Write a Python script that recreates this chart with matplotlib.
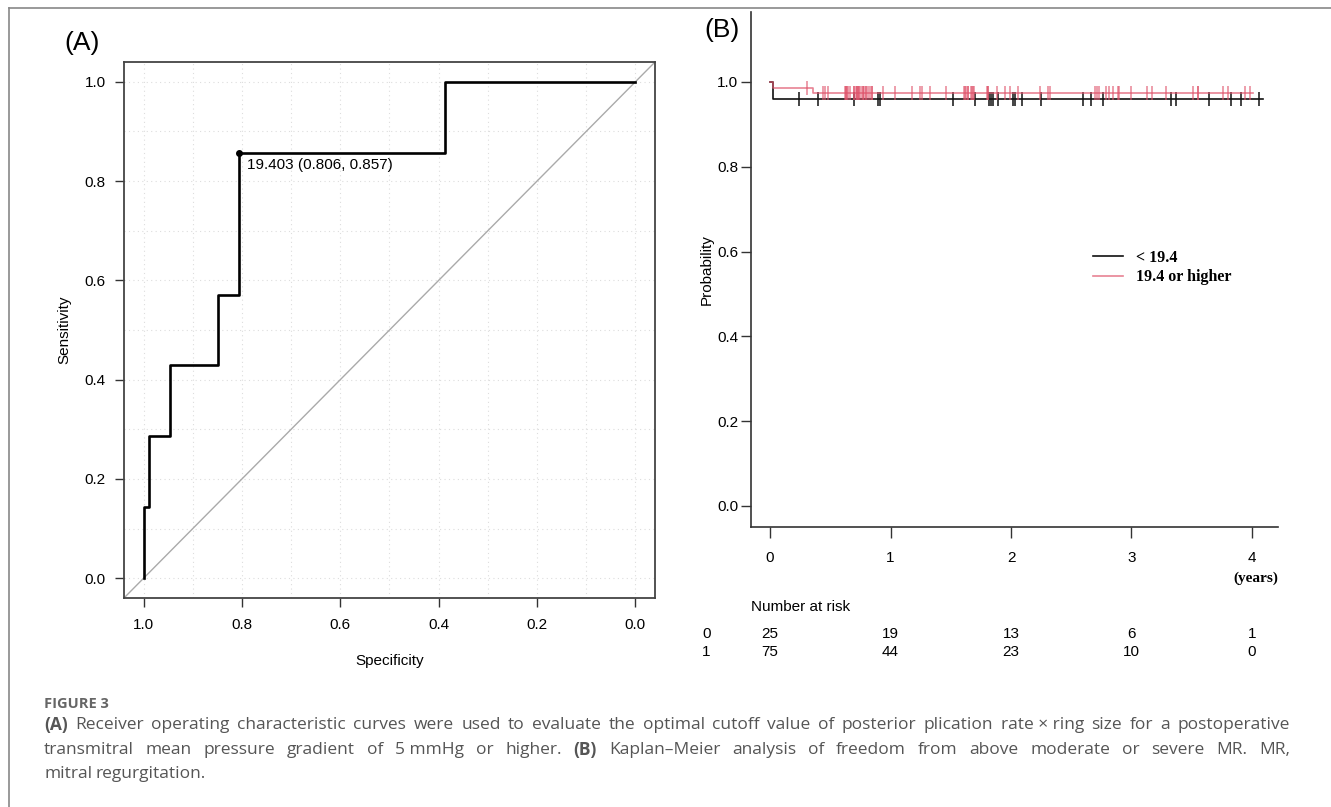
import numpy as np
import matplotlib
matplotlib.use("Agg")
import matplotlib.pyplot as plt
from matplotlib.lines import Line2D
from matplotlib.transforms import blended_transform_factory

# ---- ROC data (panel A) ----
roc_spec = [1.0, 1.0, 0.989, 0.989, 0.946, 0.946, 0.849, 0.849, 0.806, 0.806, 0.387, 0.387, 0.0]
roc_sens = [0.0, 0.143, 0.143, 0.286, 0.286, 0.429, 0.429, 0.571, 0.571, 0.857, 0.857, 1.0, 1.0]
best_spec, best_sens, best_thr = 0.806, 0.857, 19.403

# ---- KM data (panel B) ----
grp0_events = [0.025]
grp0_censor = [0.24, 0.40, 0.70, 0.895, 0.914, 1.52, 1.70, 1.82, 1.83, 1.85, 1.89,
               2.02, 2.03, 2.09, 2.25, 2.60, 2.66, 2.76, 3.33, 3.37, 3.64, 3.83, 3.91, 4.06]
grp1_events = [0.025, 0.36]
grp1_censor = [0.31, 0.437, 0.454, 0.48, 0.622, 0.63, 0.63, 0.64, 0.65, 0.66, 0.70, 0.70,
               0.71, 0.72, 0.72, 0.73, 0.74, 0.74, 0.755, 0.77, 0.77, 0.783, 0.797, 0.80,
               0.813, 0.83, 0.844, 0.844, 0.94,
               1.04, 1.18, 1.245, 1.26, 1.328, 1.458, 1.613, 1.62, 1.624, 1.64, 1.64, 1.673,
               1.67, 1.687, 1.69, 1.80, 1.81, 1.81, 1.88, 1.95, 1.99,
               2.06, 2.24, 2.31, 2.32, 2.70, 2.71, 2.73, 2.79, 2.81, 2.85, 2.885, 2.90, 2.995,
               3.13, 3.17, 3.29, 3.51, 3.55, 3.55, 3.76, 3.80, 3.94, 3.98]
group_labels = ["< 19.4", "19.4 or higher"]
risk_times = [0, 1, 2, 3, 4]
risk_grp0 = [25, 19, 13, 6, 1]
risk_grp1 = [75, 44, 23, 10, 0]

W, H = 1331, 807
fig = plt.figure(figsize=(W / 100, H / 100), dpi=100)
SANS = ["Liberation Sans", "DejaVu Sans"]
SERIF = ["Liberation Serif", "DejaVu Serif"]
plt.rcParams["font.family"] = SANS
PT = 72 / 100  # points per pixel


def fx(px):
    return px / W


def fy(py):
    return 1 - py / H


# outer frame lines
fig.add_artist(Line2D([fx(9), 1], [fy(8), fy(8)], color="#888888", lw=1.2))
fig.add_artist(Line2D([fx(9), fx(9)], [fy(8), 0], color="#888888", lw=1.2))

# ---------------- panel A ----------------
axA = fig.add_axes([fx(124), fy(598), fx(655) - fx(124), fy(62) - fy(598)])
axA.set_xlim(1.04, -0.04)
axA.set_ylim(-0.04, 1.04)
for g in np.arange(0, 1.01, 0.1):
    axA.axvline(g, color="#dddddd", lw=0.8, ls=(0, (1, 3)), zorder=0)
    axA.axhline(g, color="#dddddd", lw=0.8, ls=(0, (1, 3)), zorder=0)
axA.axline((1, 0), (0, 1), color="#aaaaaa", lw=1.0, zorder=1)
axA.plot(roc_spec, roc_sens, color="black", lw=1.9, zorder=3)
axA.plot([best_spec], [best_sens], "o", color="black", ms=4, zorder=4)
axA.annotate(f"{best_thr:.3f} ({best_spec:.3f}, {best_sens:.3f})", (best_spec, best_sens),
             xytext=(6, -4), textcoords="offset points", ha="left", va="top", fontsize=11)
ticks = [1.0, 0.8, 0.6, 0.4, 0.2, 0.0]
axA.set_xticks(ticks)
axA.set_xticklabels([f"{t:.1f}" for t in ticks])
axA.set_yticks(ticks)
axA.set_yticklabels([f"{t:.1f}" for t in ticks])
axA.tick_params(direction="out", length=9 * PT, width=1, labelsize=11, color="#333333",
                pad=9 * PT)
axA.tick_params(axis="x", pad=11 * PT)
for s in axA.spines.values():
    s.set_color("#444444")
    s.set_linewidth(1.3)
axA.set_xlabel("Specificity", fontsize=11, labelpad=16)
axA.set_ylabel("Sensitivity", fontsize=11, labelpad=10)
fig.text(fx(82), fy(43), "(A)", fontsize=19, ha="center", va="center")


# ---------------- panel B ----------------
def km_curve(events, censor):
    times = sorted(set(events) | set(censor))
    n = len(events) + len(censor)
    s = 1.0
    xs, ys = [0.0], [1.0]
    for t in times:
        d = events.count(t)
        c = censor.count(t)
        if d:
            s *= (1 - d / n)
        xs.append(t)
        ys.append(s)
        n -= d + c
    return xs, ys


def surv_at(xs, ys, t):
    idx = np.searchsorted(xs, t, side="right") - 1
    return ys[idx]


y0_px, y1_px, spine_px, top_px = 506, 82, 527, 12
axB = fig.add_axes([fx(751), fy(spine_px), fx(1278) - fx(751), fy(top_px) - fy(spine_px)])
axB.set_xlim(-0.158, 4.216)
ppu = y0_px - y1_px
axB.set_ylim(-(spine_px - y0_px) / ppu, (y0_px - top_px) / ppu)

styles = [dict(color="#111111", alpha=1.0), dict(color="#DF536B", alpha=0.72)]
for (ev, ce), st in zip([(grp0_events, grp0_censor), (grp1_events, grp1_censor)], styles):
    xs, ys = km_curve(ev, ce)
    xs.append(xs[-1] + 0.03)
    ys.append(ys[-1])
    axB.step(xs, ys, where="post", lw=1.2, **st)
    cy = [surv_at(xs, ys, t) for t in ce]
    axB.plot(ce, cy, ls="none", marker="|", ms=10, mew=1.1, **st)

axB.set_xticks(risk_times)
axB.set_yticks([0, 0.2, 0.4, 0.6, 0.8, 1.0])
axB.set_yticklabels(["0.0", "0.2", "0.4", "0.6", "0.8", "1.0"])
axB.tick_params(axis="x", direction="out", length=11 * PT, width=1, labelsize=11,
                color="#333333", pad=13 * PT)
axB.tick_params(axis="y", direction="out", length=10 * PT, width=1, labelsize=11,
                color="#333333", pad=3 * PT)
for side in ["top", "right"]:
    axB.spines[side].set_visible(False)
for side in ["left", "bottom"]:
    axB.spines[side].set_color("#333333")
    axB.spines[side].set_linewidth(1.2)
axB.set_ylabel("Probability", fontsize=11, labelpad=2)
fig.text(fx(722), fy(30), "(B)", fontsize=19, ha="center", va="center")

leg_handles = [Line2D([], [], **styles[0], lw=1.2), Line2D([], [], **styles[1], lw=1.2)]
axB.legend(leg_handles, group_labels, loc="upper left", bbox_to_anchor=(fx(1093), fy(250)),
           bbox_transform=fig.transFigure, frameon=False, handlelength=1.9,
           handletextpad=0.8, borderpad=0, borderaxespad=0,
           labelspacing=0.2, prop=dict(family=SERIF, weight="bold", size=11.5))

tr = blended_transform_factory(axB.transData, fig.transFigure)
fig.text(fx(1256), fy(578), "(years)", fontsize=11, family=SERIF, weight="bold",
         ha="center", va="center")
fig.text(fx(751), fy(607), "Number at risk", fontsize=11, ha="left", va="center")
for row, (lab, vals) in enumerate([("0", risk_grp0), ("1", risk_grp1)]):
    yy = fy(634 + row * 18)
    fig.text(fx(702), yy, lab, fontsize=11, ha="left", va="center")
    for t, v in zip(risk_times, vals):
        axB.text(t, yy, str(v), transform=tr, fontsize=11, ha="center", va="center")

# ---------------- caption ----------------
CAP = ["Open Sans", "DejaVu Sans"]
cap_color = "#555555"
fig.text(fx(44), fy(704), "FIGURE 3", fontsize=10.5, weight="bold", color="#666666",
         family=CAP, va="center")

renderer = fig.canvas.get_renderer()


def justified_line(parts, y, x0, x1, justify=True, size=12.5):
    items = []
    total = 0.0
    for word, bold in parts:
        t = fig.text(0, fy(y), word, fontsize=size, family=CAP, color=cap_color,
                     weight="bold" if bold else "normal", va="center", ha="left")
        w = t.get_window_extent(renderer=renderer).width
        items.append((t, w))
        total += w
    if justify and len(items) > 1:
        gap = ((x1 - x0) - total) / (len(items) - 1)
    else:
        gap = size * 0.28
    x = x0
    for t, w in items:
        t.set_x(fx(x))
        x += w + gap


line1 = [("(A)", True)] + [(w, False) for w in
         "Receiver operating characteristic curves were used to evaluate the optimal cutoff value of posterior plication".split()] \
    + [("rate × ring", False)] + [(w, False) for w in "size for a postoperative".split()]
line2 = [(w, False) for w in "transmitral mean pressure gradient of".split()] + [("5 mmHg", False)] \
    + [(w, False) for w in "or higher.".split()] + [("(B)", True)] \
    + [(w, False) for w in "Kaplan–Meier analysis of freedom from above moderate or severe MR. MR,".split()]
line3 = [(w, False) for w in "mitral regurgitation.".split()]
justified_line(line1, 725, 44, 1290)
justified_line(line2, 750, 44, 1290)
justified_line(line3, 774, 44, 1290, justify=False)

fig.savefig("out.png", dpi=100)
